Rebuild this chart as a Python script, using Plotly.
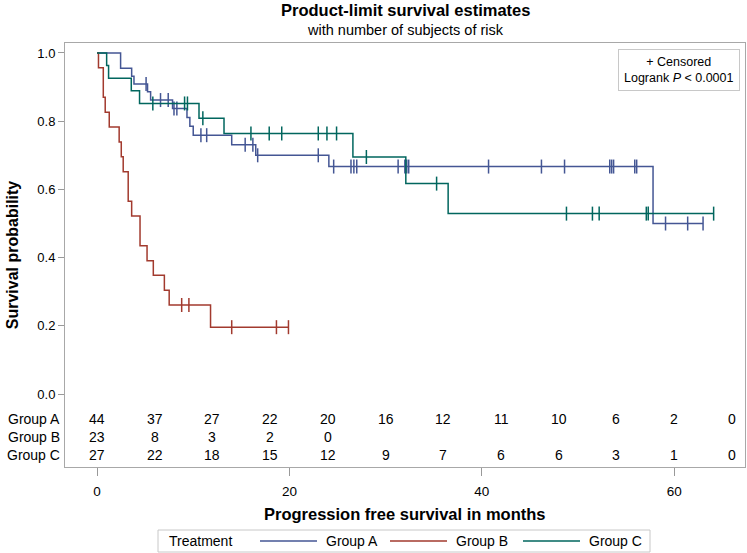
import plotly.graph_objects as go

# ---------------- data ----------------
group_names = ["Group A", "Group B", "Group C"]
group_colors = ["#445694", "#A23A2E", "#01665E"]

group_a_event_t = [2.45, 3.6, 3.84, 5.25, 5.57, 7.85, 9.35, 9.65, 10.0, 14.0, 16.5, 24.1, 57.8]
group_a_surv = [0.955, 0.932, 0.909, 0.886, 0.862, 0.837, 0.811, 0.785, 0.759, 0.731, 0.700, 0.667, 0.500]
group_a_censor_t = [5.1, 6.6, 7.4, 8.0, 8.3, 10.8, 11.4, 15.4, 16.2, 16.7, 23.0, 24.6, 26.4,
                    26.7, 27.0, 31.3, 32.0, 32.2, 32.4, 40.7, 46.2, 48.6, 53.3, 53.5, 53.7,
                    55.9, 56.1, 59.1, 61.4, 63.0]

group_b_event_t = [0.15, 0.65, 0.85, 1.27, 2.3, 2.52, 2.72, 3.24, 3.6, 4.47, 5.2, 5.85, 7.0, 7.5, 11.8]
group_b_surv = [0.957, 0.870, 0.826, 0.783, 0.739, 0.696, 0.652, 0.565, 0.522, 0.435, 0.391,
                0.348, 0.304, 0.261, 0.196]
group_b_censor_t = [8.8, 9.55, 14.0, 18.65, 19.9]

group_c_event_t = [1.0, 1.2, 3.56, 4.42, 10.6, 13.2, 26.6, 32.1, 36.5]
group_c_surv = [0.963, 0.926, 0.889, 0.852, 0.809, 0.764, 0.695, 0.617, 0.529]
group_c_censor_t = [5.8, 9.1, 9.4, 11.0, 16.0, 17.9, 19.2, 23.0, 23.9, 24.9, 28.0, 35.3,
                    48.8, 51.5, 52.2, 57.1, 57.3, 64.1]

risk_times = [0, 6, 12, 18, 24, 30, 36, 42, 48, 54, 60, 66]
group_a_risk = [44, 37, 27, 22, 20, 16, 12, 11, 10, 6, 2, 0]
group_b_risk = [23, 8, 3, 2, 0]
group_c_risk = [27, 22, 18, 15, 12, 9, 7, 6, 6, 3, 1, 0]

y_tick_vals = [0.0, 0.2, 0.4, 0.6, 0.8, 1.0]
y_tick_text = ["0.0", "0.2", "0.4", "0.6", "0.8", "1.0"]
x_tick_vals = [0, 20, 40, 60]

FONT = "Liberation Sans, Arial, sans-serif"

events = [group_a_event_t, group_b_event_t, group_c_event_t]
survs = [group_a_surv, group_b_surv, group_c_surv]
censors = [group_a_censor_t, group_b_censor_t, group_c_censor_t]
risks = [group_a_risk, group_b_risk, group_c_risk]

W, H = 747, 553
ML, MR, MT, MB = 65, 2, 43, 86
PW, PH = W - ML - MR, H - MT - MB


def px(xpix):
    return (xpix - ML) / PW


def py(ypix):
    return (H - MB - ypix) / PH


def surv_at(t, ev_t, sv):
    s = 1.0
    for et, v in zip(ev_t, sv):
        if et <= t:
            s = v
    return s


fig = go.Figure()

for name, col, ev_t, sv, cen in zip(group_names, group_colors, events, survs, censors):
    end_t = max(ev_t + cen)
    xs = [0] + list(ev_t) + [end_t]
    ys = [1.0] + list(sv) + [sv[-1]]
    fig.add_trace(go.Scatter(x=xs, y=ys, mode="lines", line=dict(color=col, width=1.5, shape="hv"),
                             name=name, showlegend=False, hoverinfo="skip"))
    fig.add_trace(go.Scatter(x=cen, y=[surv_at(t, ev_t, sv) for t in cen], mode="markers",
                             marker=dict(symbol="line-ns", size=10, line=dict(color=col, width=1.5)),
                             showlegend=False, hoverinfo="skip"))

# at-risk table inside the frame
row_y = [-0.0733, -0.126, -0.179]
for name, rk, ry in zip(group_names, risks, row_y):
    fig.add_annotation(x=-0.004, xref="paper", y=ry, yref="y", text=name, showarrow=False,
                       xanchor="right", font=dict(size=14, color="#000"))
    for t, n in zip(risk_times, rk):
        fig.add_annotation(x=t, y=ry, xref="x", yref="y", text=str(n), showarrow=False,
                           font=dict(size=14, color="#000"))

# censored / logrank box
fig.add_annotation(x=0.993, y=0.986, xref="paper", yref="paper", xanchor="right", yanchor="top",
                   text="+ Censored<br>Logrank <i>P</i> &lt; 0.0001", showarrow=False, align="center",
                   font=dict(size=12.5, color="#000"), bordercolor="#c8c8c8", borderwidth=1,
                   borderpad=5, bgcolor="white")

# titles
fig.add_annotation(x=0.5, y=1.0, xref="paper", yref="paper", yanchor="bottom", yshift=22,
                   text="<b>Product-limit survival estimates</b>", showarrow=False,
                   font=dict(size=16.5, color="#000"))
fig.add_annotation(x=0.5, y=1.0, xref="paper", yref="paper", yanchor="bottom", yshift=3,
                   text="with number of subjects of risk", showarrow=False,
                   font=dict(size=14.5, color="#000"))
fig.add_annotation(x=0.5, y=py(514), xref="paper", yref="paper", yanchor="middle",
                   text="<b>Progression free survival in months</b>", showarrow=False,
                   font=dict(size=16.5, color="#000"))

# legend box (Treatment)
LEG_Y = 541
fig.add_shape(type="rect", xref="paper", yref="paper", x0=px(158), x1=px(650), y0=py(530), y1=py(552),
              line=dict(color="#c8c8c8", width=1), fillcolor="white", layer="below")
fig.add_annotation(x=px(167), y=py(LEG_Y), xref="paper", yref="paper", xanchor="left",
                   yanchor="middle", text="Treatment", showarrow=False, font=dict(size=14, color="#000"))
leg_line_x = [260, 390, 523]
for name, col, lx in zip(group_names, group_colors, leg_line_x):
    fig.add_shape(type="line", xref="paper", yref="paper", x0=px(lx), x1=px(lx + 57),
                  y0=py(LEG_Y), y1=py(LEG_Y), line=dict(color=col, width=1.5))
    fig.add_annotation(x=px(lx + 64), y=py(LEG_Y), xref="paper", yref="paper", xanchor="left",
                       yanchor="middle", text=name, showarrow=False, font=dict(size=14, color="#000"))

fig.update_layout(
    width=W, height=H,
    margin=dict(l=ML, r=MR, t=MT, b=MB),
    paper_bgcolor="white", plot_bgcolor="white",
    font=dict(family=FONT, size=12, color="#000"),
    showlegend=False,
    xaxis=dict(range=[-3.33, 67.36], tickvals=x_tick_vals, ticks="outside", ticklen=8,
               tickcolor="#999", showgrid=False, zeroline=False, showline=True, mirror=True,
               linecolor="#a8a8a8", linewidth=1, tickfont=dict(size=13.5), ticklabelstandoff=4,
               automargin=False),
    yaxis=dict(range=[-0.214, 1.0293], tickvals=y_tick_vals, ticktext=y_tick_text, ticks="outside",
               ticklen=6, tickcolor="#999", showgrid=False, zeroline=False, showline=True,
               mirror=True, linecolor="#a8a8a8", linewidth=1, tickfont=dict(size=13),
               automargin=False,
               title=dict(text="<b>Survival probability</b>", font=dict(size=16), standoff=14)),
)

fig.write_html("out.html", config={"displayModeBar": False},
               post_script="document.body.style.margin='0px';")
